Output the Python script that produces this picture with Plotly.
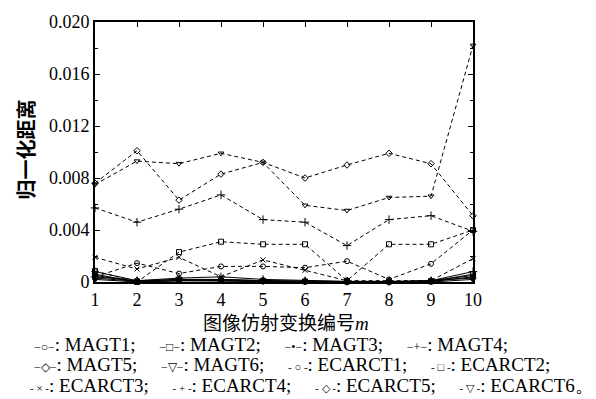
import plotly.graph_objects as go

# transform index m
m = [1, 2, 3, 4, 5, 6, 7, 8, 9, 10]

# normalized distance for each descriptor
MAGT1 = [0.0003, 0.00005, 0.0001, 0.0001, 0.00005, 0.00003, 0.00002, 0.00002, 0.00003, 0.0004]
MAGT2 = [0.0005, 0.00005, 0.0002, 0.0001, 0.0001, 0.00005, 0.00003, 0.00003, 0.00005, 0.0006]
MAGT3 = [0.0002, 0.0, 0.0001, 0.0002, 0.0001, 0.0, 0.0, 0.0, 0.0, 0.0002]
MAGT4 = [0.0004, 0.0001, 0.0003, 0.0004, 0.0002, 0.0001, 0.00005, 0.00005, 0.0001, 0.0008]
MAGT5 = [0.0008, 0.0001, 0.0002, 0.0002, 0.0001, 0.00005, 0.00005, 0.0, 0.0001, 0.0003]
MAGT6 = [0.0006, 0.0, 0.0001, 0.0001, 0.0, 0.0, 0.0, 0.0, 0.0001, 0.0005]
ECARCT1 = [0.0004, 0.00145, 0.00065, 0.0012, 0.0012, 0.0011, 0.0016, 0.0002, 0.0014, 0.0040]
ECARCT2 = [0.00085, 0.0, 0.0023, 0.0031, 0.0029, 0.0029, 0.0001, 0.0029, 0.0029, 0.0040]
ECARCT3 = [0.0019, 0.0010, 0.0019, 0.0004, 0.0017, 0.0009, 0.0001, 0.0001, 0.0001, 0.0018]
ECARCT4 = [0.0057, 0.0046, 0.0056, 0.0067, 0.0048, 0.0046, 0.0028, 0.0048, 0.0051, 0.0039]
ECARCT5 = [0.0076, 0.0101, 0.0063, 0.0083, 0.0092, 0.0080, 0.0090, 0.0099, 0.0091, 0.0051]
ECARCT6 = [0.0075, 0.0093, 0.0091, 0.0099, 0.0092, 0.0059, 0.0055, 0.0065, 0.0066, 0.0182]

y_ticks = [0, 0.004, 0.008, 0.012, 0.016, 0.020]
y_tick_text = ["0", "0.004", "0.008", "0.012", "0.016", "0.020"]

SERIF = "Liberation Serif"
CJK = "Noto Sans CJK SC"

series = [
    ("MAGT1", MAGT1, "solid", "circle-open", 5),
    ("MAGT2", MAGT2, "solid", "square-open", 5),
    ("MAGT3", MAGT3, "solid", "circle", 4),
    ("MAGT4", MAGT4, "solid", "cross-thin-open", 6),
    ("MAGT5", MAGT5, "solid", "diamond-open", 5),
    ("MAGT6", MAGT6, "solid", "triangle-down-open", 5),
    ("ECARCT1", ECARCT1, "4px,3px", "circle-open", 5),
    ("ECARCT2", ECARCT2, "4px,3px", "square-open", 5),
    ("ECARCT3", ECARCT3, "4px,3px", "x-thin-open", 5),
    ("ECARCT4", ECARCT4, "4px,3px", "cross-thin-open", 6),
    ("ECARCT5", ECARCT5, "4px,3px", "diamond-open", 5),
    ("ECARCT6", ECARCT6, "4px,3px", "triangle-down-open", 5),
]

fig = go.Figure()
# dashed series first, solid ones on top along the baseline
for name, vals, dash, sym, size in series[6:] + series[:6]:
    fig.add_trace(go.Scatter(
        x=m, y=vals, name=name, mode="lines+markers",
        line=dict(color="black", width=1, dash=dash),
        marker=dict(symbol=sym, size=size, color="black",
                    line=dict(color="black", width=1)),
        cliponaxis=False, showlegend=False,
    ))

axis_common = dict(
    showline=True, linecolor="black", linewidth=2, mirror="ticks",
    ticks="inside", ticklen=5, tickwidth=1, tickcolor="black",
    showgrid=False, zeroline=False,
    tickfont=dict(family=SERIF, size=18, color="black"),
)

fig.update_xaxes(range=[1, 10], tickvals=m, **axis_common)
fig.update_yaxes(range=[0, 0.02], tickvals=y_ticks, ticktext=y_tick_text,
                 minor=dict(tickvals=[0.002, 0.006, 0.010, 0.014, 0.018],
                            ticks="inside", ticklen=3, tickcolor="black"),
                 **axis_common)

W, H = 596, 399
L, R, T, B = 95, 123, 15, 117
pw, ph = W - L - R, H - T - B


def px_x(p):
    return (p - L) / pw


def px_y(p):
    return (H - B - p) / ph


annotations = [
    dict(text="<b>归一化距离</b>", x=px_x(26), y=px_y(146), xref="paper", yref="paper",
         xanchor="center", yanchor="middle", showarrow=False, textangle=-90,
         font=dict(family=CJK, size=20, color="black")),
    dict(text="图像仿射变换编号<i><span style='font-family:Liberation Serif'>m</span></i>",
         x=px_x(286), y=px_y(323), xref="paper", yref="paper",
         xanchor="center", yanchor="middle", showarrow=False,
         font=dict(family=CJK, size=19, color="black")),
]

solid_sym = {"MAGT1": "○", "MAGT2": "□", "MAGT3": "•", "MAGT4": "+",
             "MAGT5": "◇", "MAGT6": "▽"}
dash_sym = {"ECARCT1": "○", "ECARCT2": "□", "ECARCT3": "×", "ECARCT4": "+",
            "ECARCT5": "◇", "ECARCT6": "▽"}


def item(name, last=False):
    if name in solid_sym:
        glyph = "<span style='font-size:12px'>−" + solid_sym[name] + "−</span>"
    else:
        glyph = "<span style='font-size:11px'>- " + dash_sym[name] + " -</span>"
    return glyph + ": " + name + ("。" if last else ";")


NB = "\u00a0"
rows = [
    (["MAGT1", "MAGT2", "MAGT3", "MAGT4"], 32, 346, 5),
    (["MAGT5", "MAGT6", "ECARCT1", "ECARCT2"], 32, 367, 5),
    (["ECARCT3", "ECARCT4", "ECARCT5", "ECARCT6"], 28, 388, 5),
]
for names, x0, y0, gap in rows:
    parts = [item(n, last=(n == "ECARCT6")) for n in names]
    annotations.append(dict(
        text=(NB * gap).join(parts), x=px_x(x0), y=px_y(y0),
        xref="paper", yref="paper", xanchor="left", yanchor="middle",
        showarrow=False, font=dict(family=SERIF, size=19, color="black"),
    ))

fig.update_layout(
    width=W, height=H, autosize=False,
    margin=dict(l=L, r=R, t=T, b=B, pad=0),
    paper_bgcolor="white", plot_bgcolor="white",
    annotations=annotations, showlegend=False,
)

fig.write_html("out.html")
